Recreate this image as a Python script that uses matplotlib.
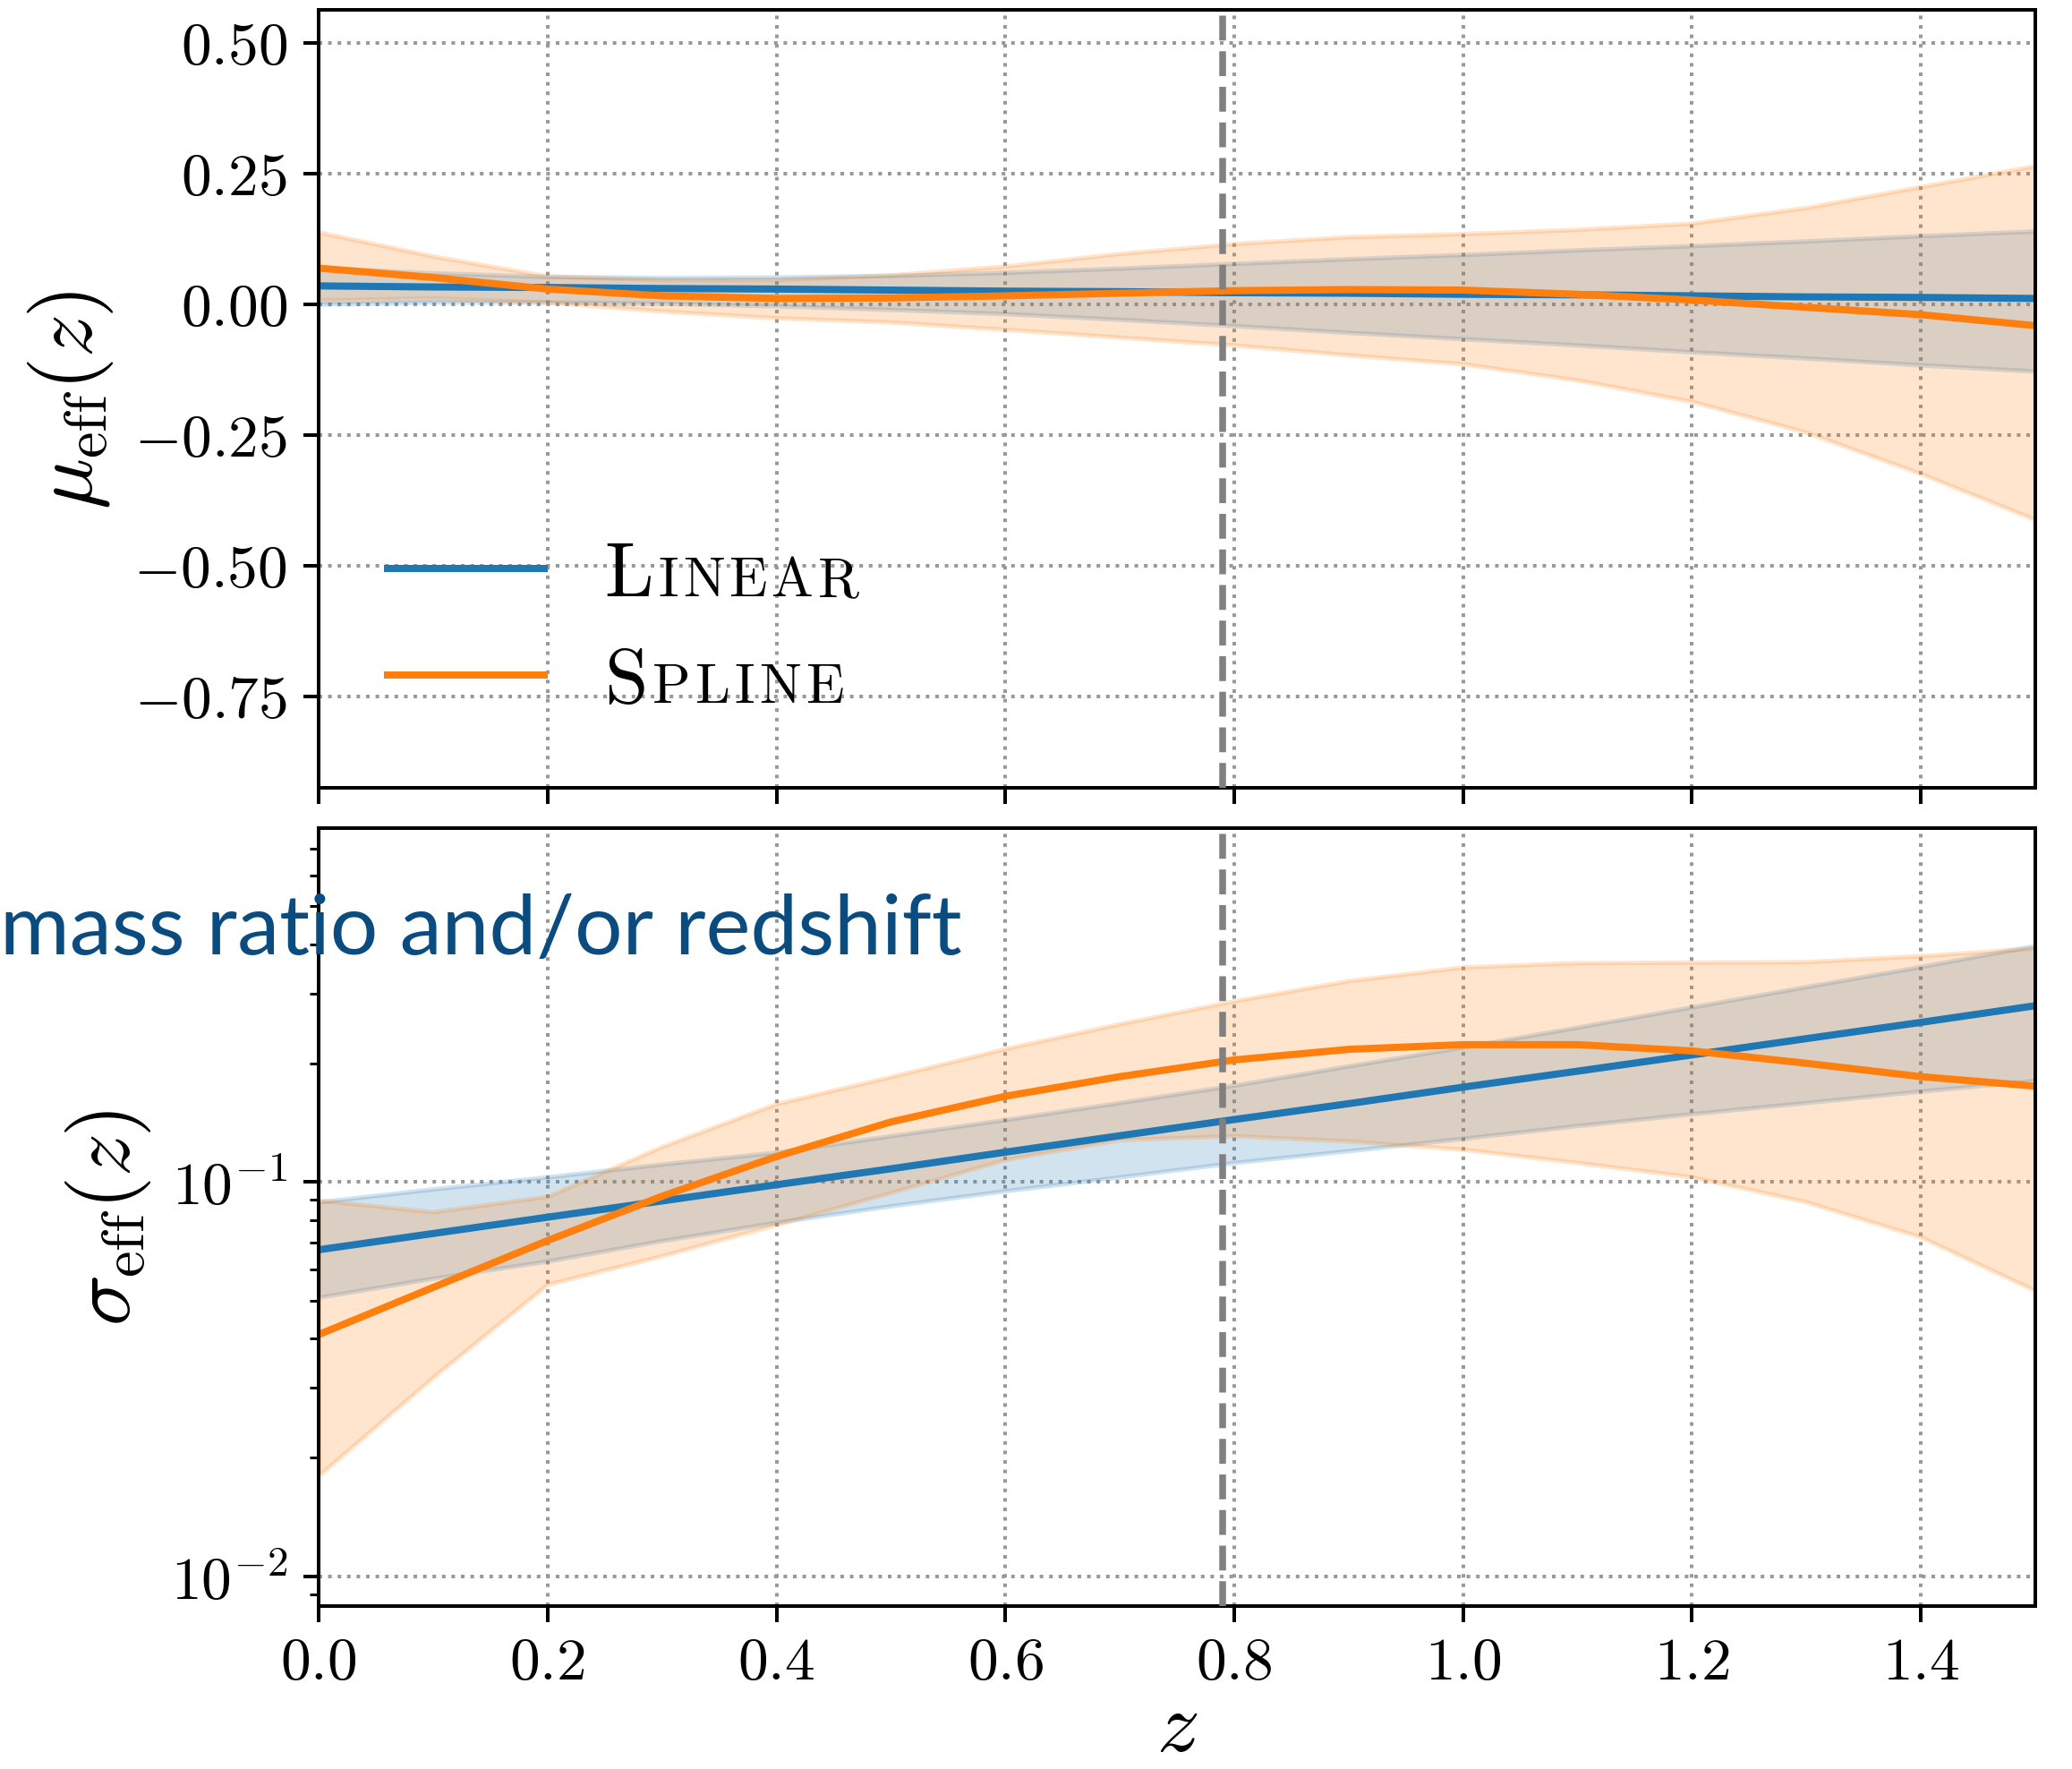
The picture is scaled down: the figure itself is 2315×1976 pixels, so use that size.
import matplotlib
matplotlib.use("Agg")
import matplotlib.pyplot as plt
from matplotlib.lines import Line2D
from matplotlib.offsetbox import TextArea, HPacker, VPacker, DrawingArea, AnchoredOffsetbox

plt.rcParams.update({
    "font.family": "serif",
    "font.serif": ["cmr10"],
    "mathtext.fontset": "cm",
    "axes.formatter.use_mathtext": True,
    "axes.unicode_minus": True,
})

# redshift grid
z = [0.0, 0.1, 0.2, 0.3, 0.4, 0.5, 0.6, 0.7, 0.8, 0.9, 1.0, 1.1, 1.2, 1.3, 1.4, 1.5]
z_ref = 0.79

# mu_eff(z): median and 90% band
mu_linear = [0.035, 0.033, 0.032, 0.030, 0.029, 0.027, 0.025, 0.024,
             0.022, 0.021, 0.019, 0.018, 0.016, 0.014, 0.013, 0.011]
mu_linear_hi = [0.070, 0.060, 0.053, 0.051, 0.052, 0.055, 0.061, 0.069,
                0.078, 0.087, 0.095, 0.104, 0.112, 0.121, 0.131, 0.140]
mu_linear_lo = [0.000, 0.004, 0.004, 0.002, -0.003, -0.010, -0.018, -0.029,
                -0.041, -0.054, -0.066, -0.078, -0.091, -0.103, -0.116, -0.128]
mu_spline = [0.069, 0.051, 0.029, 0.016, 0.011, 0.012, 0.016, 0.021,
             0.026, 0.028, 0.027, 0.019, 0.008, -0.006, -0.020, -0.041]
mu_spline_hi = [0.138, 0.092, 0.054, 0.047, 0.047, 0.056, 0.073, 0.097,
                0.116, 0.129, 0.135, 0.143, 0.155, 0.185, 0.225, 0.265]
mu_spline_lo = [0.008, 0.012, 0.004, -0.013, -0.026, -0.034, -0.048, -0.063,
                -0.078, -0.097, -0.114, -0.145, -0.186, -0.245, -0.324, -0.412]

# sigma_eff(z): median and 90% band
sig_linear = [0.0673, 0.0740, 0.0814, 0.0895, 0.0984, 0.108, 0.119, 0.131,
              0.144, 0.158, 0.174, 0.191, 0.210, 0.231, 0.254, 0.280]
sig_linear_hi = [0.089, 0.096, 0.103, 0.111, 0.119, 0.131, 0.144, 0.159,
                 0.176, 0.197, 0.220, 0.247, 0.278, 0.313, 0.352, 0.398]
sig_linear_lo = [0.051, 0.057, 0.063, 0.071, 0.079, 0.087, 0.095, 0.103,
                 0.112, 0.120, 0.129, 0.139, 0.149, 0.159, 0.170, 0.181]
sig_spline = [0.041, 0.054, 0.071, 0.092, 0.116, 0.142, 0.165, 0.185,
              0.204, 0.217, 0.223, 0.223, 0.215, 0.200, 0.185, 0.175]
sig_spline_hi = [0.090, 0.084, 0.092, 0.123, 0.158, 0.185, 0.218, 0.252,
                 0.288, 0.324, 0.351, 0.360, 0.361, 0.362, 0.375, 0.392]
sig_spline_lo = [0.018, 0.032, 0.055, 0.065, 0.078, 0.094, 0.114, 0.128,
                 0.131, 0.127, 0.121, 0.112, 0.103, 0.089, 0.0725, 0.053]

mu_ticks = [-0.75, -0.50, -0.25, 0.00, 0.25, 0.50]
z_ticks = [0.0, 0.2, 0.4, 0.6, 0.8, 1.0, 1.2, 1.4]

DPI = 360
fig = plt.figure(figsize=(2315 / DPI, 1977 / DPI), dpi=DPI)
ax1 = fig.add_axes([0.1538, 0.5544, 0.8285, 0.4395])
ax2 = fig.add_axes([0.1538, 0.0921, 0.8285, 0.4395], sharex=ax1)

tick_fs = 13.5
label_fs = 19

for ax, (lin, lin_lo, lin_hi, spl, spl_lo, spl_hi) in [
    (ax1, (mu_linear, mu_linear_lo, mu_linear_hi, mu_spline, mu_spline_lo, mu_spline_hi)),
    (ax2, (sig_linear, sig_linear_lo, sig_linear_hi, sig_spline, sig_spline_lo, sig_spline_hi)),
]:
    ax.fill_between(z, lin_lo, lin_hi, color="C0", alpha=0.2, zorder=1)
    ax.fill_between(z, spl_lo, spl_hi, color="C1", alpha=0.2, zorder=1.1)
    ax.plot(z, lin, color="C0", lw=1.6, zorder=2)
    ax.plot(z, spl, color="C1", lw=1.6, zorder=2.1)
    ax.axvline(z_ref, color="grey", ls="--", lw=1.5, zorder=3)
    ax.grid(True, ls=":", color="0.6", lw=0.8)
    ax.set_axisbelow(True)
    ax.tick_params(labelsize=tick_fs)

ax1.set_xlim(0.0, 1.5)
ax1.set_xticks(z_ticks)
ax1.tick_params(labelbottom=False)
ax1.set_yticks(mu_ticks)
ax1.set_ylim(-0.925, 0.563)
ax1.set_ylabel(r"$\mu_{\rm eff}(z)$", fontsize=label_fs)

ax2.set_yscale("log")
ax2.set_ylim(0.0084, 0.79)
ax2.set_ylabel(r"$\sigma_{\rm eff}(z)$", fontsize=label_fs)
ax2.set_xlabel(r"$z$", fontsize=label_fs, labelpad=0)


def legend_row(color, first, rest):
    handle = DrawingArea(35, 12.0, 0, 0)
    handle.add_artist(Line2D([0, 35], [6.0, 6.0], color=color, lw=1.6))
    letters = [TextArea(first, textprops=dict(fontsize=17.5))]
    letters += [TextArea(c, textprops=dict(fontsize=12.5)) for c in rest]
    label = HPacker(children=letters, align="baseline", pad=0, sep=1.0)
    return HPacker(children=[handle, label], align="baseline", pad=0, sep=13.5)


rows = VPacker(children=[legend_row("C0", "L", "INEAR"),
                         legend_row("C1", "S", "PLINE")],
               align="left", pad=0, sep=8.2)
leg = AnchoredOffsetbox(loc="upper left", child=rows, pad=0, borderpad=0,
                        frameon=False, bbox_to_anchor=(0.040, 0.317),
                        bbox_transform=ax1.transAxes)
ax1.add_artist(leg)

fig.text(0.0, 0.4608, "mass ratio and/or redshift", family="Lato",
         fontsize=18.9, color="#0b4c80", ha="left", va="baseline")

fig.savefig("out.png", dpi=DPI)
